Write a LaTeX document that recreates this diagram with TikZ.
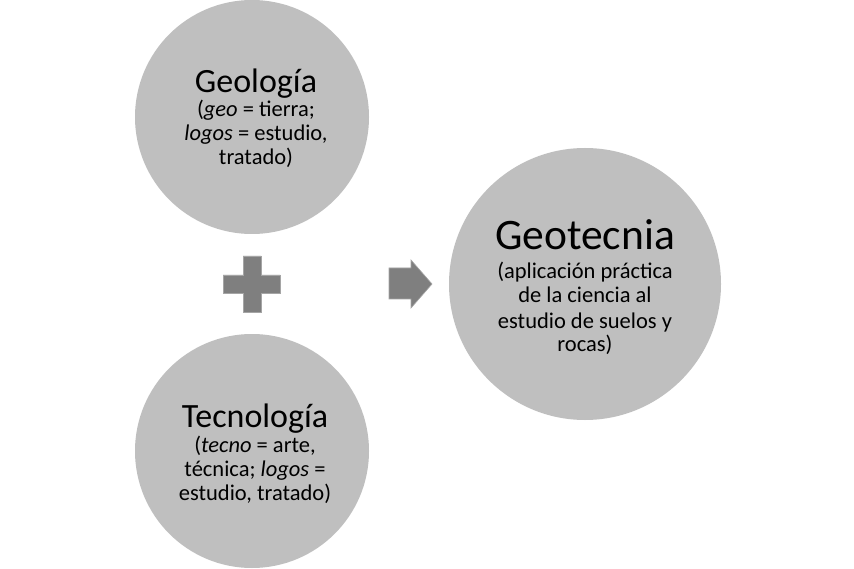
\documentclass[tikz,border=0pt]{standalone}
\usepackage{fontspec}
\setmainfont{Carlito}
\definecolor{circfill}{RGB}{191,191,191}
\definecolor{symfill}{RGB}{127,127,127}
\definecolor{symedge}{RGB}{165,165,165}
\tikzset{
  bigcirc/.style={circle, fill=circfill, draw=none, inner sep=0pt},
  ln/.style={anchor=base, inner sep=0pt, text=black},
  ttl/.style={ln, font=\fontsize{34}{34}\selectfont},
  bigttl/.style={ln, font=\fontsize{43.5}{43.5}\selectfont},
  sub/.style={ln, font=\fontsize{22.5}{22.5}\selectfont},
  symbol/.style={fill=symfill, draw=symedge, line width=0.6pt}
}
\begin{document}
\begin{tikzpicture}[x=1pt,y=-1pt]
\useasboundingbox (0,0) rectangle (854,569);
\fill[white] (0,0) rectangle (854,569);
% circles
\node[bigcirc, minimum size=234pt] (geo) at (252,117) {};
\node[bigcirc, minimum size=234pt] (tec) at (252,451) {};
\node[bigcirc, minimum size=272pt] (gtc) at (585,284) {};
% Geologia
\node[ttl] (geo1) at (256,93) {Geología};
\node[sub] (geo2) at (256,117) {(\textit{geo} = tierra;};
\node[sub] (geo3) at (256,141) {\textit{logos} = estudio,};
\node[sub] (geo4) at (256,165) {tratado)};
% Tecnologia
\node[ttl] (tec1) at (255,427) {Tecnología};
\node[sub] (tec2) at (255,452) {(\textit{tecno} = arte,};
\node[sub] (tec3) at (255,476) {técnica; \textit{logos} =};
\node[sub] (tec4) at (255,500) {estudio, tratado)};
% Geotecnia
\node[bigttl] (gtc1) at (585,250) {Geotecnia};
\node[sub] (gtc2) at (585,279) {(aplicación práctica};
\node[sub] (gtc3) at (585,303) {de la ciencia al};
\node[sub] (gtc4) at (585,328) {estudio de suelos y};
\node[sub] (gtc5) at (585,352) {rocas)};
% plus sign
\path[symbol] (243,256) -- (261,256) -- (261,275) -- (280,275) -- (280,293)
  -- (261,293) -- (261,312) -- (243,312) -- (243,293) -- (223,293)
  -- (223,275) -- (243,275) -- cycle;
% arrow
\path[symbol] (389,268) -- (411,268) -- (411,260) -- (432,284) -- (411,308)
  -- (411,299) -- (389,299) -- cycle;
\end{tikzpicture}
\end{document}
